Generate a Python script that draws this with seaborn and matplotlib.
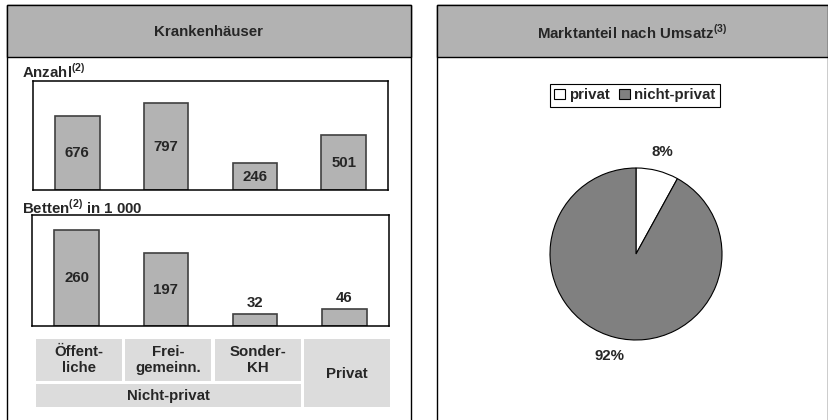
import matplotlib
matplotlib.use("Agg")
import matplotlib.pyplot as plt
from matplotlib.patches import Rectangle
import seaborn as sns
import pandas as pd

# ---- data ----
categories = ["Öffent-\nliche", "Frei-\ngemeinn.", "Sonder-\nKH", "Privat"]
anzahl = [676, 797, 246, 501]
betten = [260, 197, 32, 46]
market_labels = ["privat", "nicht-privat"]
market_share = [8, 92]
group_label = "Nicht-privat"

sns.set_style("white")
plt.rcParams["font.family"] = ["Liberation Sans", "DejaVu Sans"]
plt.rcParams["mathtext.fontset"] = "custom"
plt.rcParams["mathtext.rm"] = "Liberation Sans"
plt.rcParams["mathtext.bf"] = "Liberation Sans:bold"

W, H = 829, 420
FS = 10.8
BAR_FILL = "#b3b3b3"
BAR_EDGE = "#404040"
HEAD_FILL = "#b2b2b2"
CAT_FILL = "#dcdcdc"
PIE_DARK = "#808080"

fig = plt.figure(figsize=(W / 100, H / 100), dpi=100)


def px_axes(l, t, r, b):
    return fig.add_axes([l / W, 1 - b / H, (r - l) / W, (b - t) / H])


# background layer in pixel coordinates
bg = fig.add_axes([0, 0, 1, 1])
bg.set_xlim(0, W)
bg.set_ylim(H, 0)
bg.axis("off")
bg.set_zorder(0)

lw_panel = 1.0
for (l, r) in [(7, 411), (437, 828)]:
    bg.add_patch(Rectangle((l, 5), r - l, 440, facecolor="white",
                           edgecolor="black", linewidth=lw_panel))
    bg.add_patch(Rectangle((l, 5), r - l, 52, facecolor=HEAD_FILL,
                           edgecolor="black", linewidth=lw_panel))

bg.text(209, 32, "Krankenhäuser", ha="center", va="center",
        fontsize=FS, fontweight="bold")
bg.text(632, 32, r"Marktanteil nach Umsatz$^{\mathbf{(3)}}$", ha="center",
        va="center", fontsize=FS, fontweight="bold")
bg.text(22, 71, r"Anzahl$^{\mathbf{(2)}}$", ha="left", va="center",
        fontsize=FS, fontweight="bold")
bg.text(22, 207, r"Betten$^{\mathbf{(2)}}$ in 1 000", ha="left", va="center",
        fontsize=FS, fontweight="bold")

# category boxes under the bars
box_w = 86
box_step = 89.4
for i, cat in enumerate(categories):
    left = 36 + i * box_step
    if i < 3:
        bg.add_patch(Rectangle((left, 339), box_w, 42, facecolor=CAT_FILL,
                               edgecolor="none"))
        bg.text(left + box_w / 2, 360, cat, ha="center", va="center",
                fontsize=FS, fontweight="bold", linespacing=1.15)
    else:
        bg.add_patch(Rectangle((left, 339), box_w, 68, facecolor=CAT_FILL,
                               edgecolor="none"))
        bg.text(left + box_w / 2, 374, cat, ha="center", va="center",
                fontsize=FS, fontweight="bold")
bg.add_patch(Rectangle((36, 384), 2 * box_step + box_w, 23,
                       facecolor=CAT_FILL, edgecolor="none"))
bg.text(36 + (2 * box_step + box_w) / 2, 396, group_label, ha="center",
        va="center", fontsize=FS, fontweight="bold")


def bar_panel(ax, values, ymax):
    df = pd.DataFrame({"cat": categories, "val": values})
    sns.barplot(data=df, x="cat", y="val", ax=ax, color=BAR_FILL,
                saturation=1, edgecolor=BAR_EDGE, linewidth=1.2, width=0.5)
    ax.set_ylim(0, ymax)
    ax.set_xlim(-0.5, len(values) - 0.5)
    ax.set_xticks([])
    ax.set_yticks([])
    ax.set_xlabel("")
    ax.set_ylabel("")
    for s in ax.spines.values():
        s.set_visible(True)
        s.set_color("black")
        s.set_linewidth(1.1)
    for i, v in enumerate(values):
        if v / ymax > 0.2:
            ax.text(i, v / 2, f"{v}", ha="center", va="center",
                    fontsize=FS, fontweight="bold")
        else:
            ax.annotate(f"{v}", (i, v), xytext=(0, 3), textcoords="offset points",
                        ha="center", va="bottom", fontsize=FS, fontweight="bold")


ax1 = px_axes(33, 81, 388, 190)
bar_panel(ax1, anzahl, 1000)
ax2 = px_axes(32, 215, 389, 326)
bar_panel(ax2, betten, 300)

# pie
R = 86
cx, cy = 636, 254
k = 1.35
axp = px_axes(cx - R * k, cy - R * k, cx + R * k, cy + R * k)
wedges, texts, autotexts = axp.pie(
    market_share, colors=["white", PIE_DARK], startangle=90, counterclock=False,
    autopct="%.0f%%", pctdistance=1.22,
    wedgeprops=dict(edgecolor="black", linewidth=0.8),
    textprops=dict(fontsize=FS, fontweight="bold"))
axp.set_xlim(-k, k)
axp.set_ylim(-k, k)
axp.set_aspect("equal")

leg = fig.legend(wedges, market_labels, loc="center",
                 bbox_to_anchor=(635 / W, 1 - 95 / H), ncol=2, frameon=True,
                 fancybox=False, edgecolor="black", framealpha=1,
                 handlelength=0.7, handleheight=0.7, handletextpad=0.3,
                 columnspacing=0.6, borderpad=0.3, borderaxespad=0,
                 prop=dict(size=FS, weight="bold"))
leg.get_frame().set_linewidth(0.8)

fig.savefig("out.png", dpi=100)
